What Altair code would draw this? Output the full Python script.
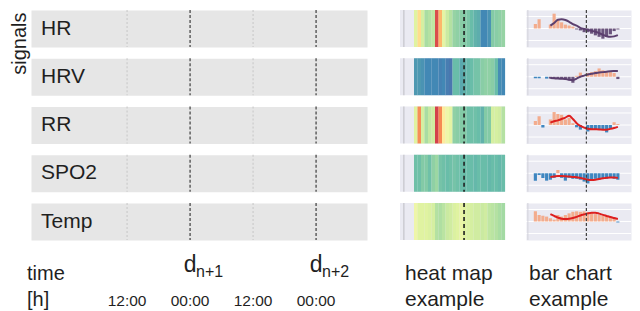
import altair as alt
import pandas as pd

FONT = "Liberation Sans"

# ---------------- data ----------------
signals = ["HR", "HRV", "RR", "SPO2", "Temp"]

# left timeline (hours relative to the first 12:00)
time_domain = [-18.3, 45.7]
tick_hours = [0, 12, 24, 36]
tick_labels = ["12:00", "00:00", "12:00", "00:00"]
tick_kinds = ["noon", "midnight", "noon", "midnight"]
day_hours = [12, 36]
day_letters = ["d", "d"]
day_subs = ["n+1", "n+2"]
head_left = ["time", "[h]"]
head_heat = ["heat map", "example"]
head_bar = ["bar chart", "example"]

# heat map stripes (normalised values, spectral colour map)
heat_domain = [-7.43, 26]
heat_panel = [-4, 26]
heat_edge = -2.9
heat_now = 14.3
heat_hr = [0.6, 0.4, 0.62, 0.7, 0.68, 0.66, 0.13, 0.32, 0.58, 0.64, 0.68, 0.73, 0.74,
           0.75, 0.76, 0.77, 0.8, 0.82, 0.83, 0.9, 0.9, 0.88, 0.76, 0.75, 0.74, 0.73]
heat_hrv = [0.87, 0.87, 0.88, 0.9, 0.9, 0.9, 0.9, 0.91, 0.9, 0.92, 0.93, 0.8, 0.8,
            0.84, 0.82, 0.81, 0.8, 0.78, 0.78, 0.75, 0.74, 0.74, 0.75, 0.8, 0.89, 0.9]
heat_rr = [0.6, 0.25, 0.62, 0.7, 0.65, 0.63, 0.11, 0.24, 0.45, 0.55, 0.58, 0.74, 0.75,
           0.76, 0.76, 0.79, 0.79, 0.79, 0.8, 0.82, 0.76, 0.76, 0.62, 0.62, 0.63, 0.68]
heat_spo2 = [0.79, 0.79, 0.76, 0.76, 0.79, 0.74, 0.72, 0.78, 0.79, 0.8, 0.79, 0.78, 0.79,
             0.8, 0.8, 0.8, 0.8, 0.81, 0.8, 0.8, 0.8, 0.81, 0.8, 0.8, 0.81, 0.8]
heat_temp = [0.55, 0.6, 0.6, 0.6, 0.61, 0.62, 0.68, 0.69, 0.67, 0.64, 0.63, 0.61, 0.6,
             0.56, 0.6, 0.61, 0.62, 0.63, 0.63, 0.64, 0.63, 0.66, 0.67, 0.68, 0.7, 0.71]
heat_values = {"HR": heat_hr, "HRV": heat_hrv, "RR": heat_rr, "SPO2": heat_spo2, "Temp": heat_temp}

# bar chart example (deviation bars + trend line)
bar_domain = [-2.5, 25.5]
bar_ydomain = [-2, 2]
bar_edge = -2
bar_now = 13.6
bar_grid = [-1.3, 0, 1.3]
bar_hr = [0.49, 1.0, 0, 0, 0.42, 1.6, 1.0, 0.67, 0.42, 0.32, 0.2, -0.1, -0.21, -0.4,
          -0.4, -0.56, -0.74, -0.9, -1.1, -0.9, -0.63, -0.28, -0.1, 0]
bar_hrv = [-0.15, -0.15, 0, -0.2, -0.2, -0.2, -0.25, -0.25, -0.3, -0.4, -0.65, 0.1,
           0.45, 0, 0.4, 0.5, 0.6, 0.9, 0.7, 0.6, 0.5, 0.4, -0.25, 0]
bar_rr = [0.42, 0.95, -0.28, 0, 0.6, 1.4, 1.2, 1.1, 0.6, 0.77, 0.2, -0.25, -0.5, 0,
          -0.7, -0.5, -0.5, -0.5, -0.5, -0.8, -0.4, 0.3, 0.1, 0]
bar_spo2 = [-0.8, -0.2, -0.5, -0.8, -0.7, -0.5, 0.35, -0.5, -0.8, -0.5, -0.6, -0.6,
            -0.7, -0.9, -1.1, -0.7, -0.6, -0.7, -0.6, -0.6, -0.5, -0.6, -0.7, 0]
bar_temp = [1.1, 0.7, 0.63, 0.53, 0.35, 0.2, 0.7, 0.53, 0.7, 0.88, 1.05, 1.1, 1.05,
            1.1, 1.0, 0.95, 0.8, 0.72, 0.6, 0.6, 0.5, 0.45, -0.1, 0]
bar_values = {"HR": bar_hr, "HRV": bar_hrv, "RR": bar_rr, "SPO2": bar_spo2, "Temp": bar_temp}

grp_hr = ["pos"] * 11 + ["trend"] * 13
grp_hrv = ["neg"] * 4 + ["trend"] * 7 + ["pos"] * 11 + ["trend"] * 2


def sign_groups(vals):
    return ["pos" if v > 0 else "neg" for v in vals]


bar_groups = {"HR": grp_hr, "HRV": grp_hrv, "RR": sign_groups(bar_rr),
              "SPO2": sign_groups(bar_spo2), "Temp": sign_groups(bar_temp)}

trend_start = 4
trend_hr = [0.32, 0.6, 0.95, 1.0, 0.92, 0.72, 0.48, 0.3, 0.07, -0.05, -0.15, -0.25,
            -0.35, -0.5, -0.68, -0.84, -0.9, -0.85, -0.72]
trend_hrv = [-0.14, -0.17, -0.2, -0.22, -0.25, -0.32, -0.35, -0.2, 0, 0.12, 0.25, 0.32,
             0.4, 0.45, 0.5, 0.55, 0.6, 0.62, 0.63]
trend_rr = [0.25, 0.4, 0.5, 0.65, 0.8, 1.0, 0.65, 0.2, -0.1, -0.28, -0.4, -0.46, -0.47,
            -0.48, -0.5, -0.5, -0.42, -0.32, -0.2]
trend_spo2 = [-0.4, -0.35, -0.3, -0.3, -0.32, -0.35, -0.4, -0.42, -0.5, -0.6, -0.7,
              -0.72, -0.7, -0.62, -0.55, -0.48, -0.45, -0.45, -0.5]
trend_temp = [0.8, 0.6, 0.42, 0.3, 0.28, 0.3, 0.38, 0.5, 0.65, 0.77, 0.88, 0.95, 0.95,
              0.85, 0.72, 0.6, 0.48, 0.38, 0.28]
trend_values = {"HR": trend_hr, "HRV": trend_hrv, "RR": trend_rr, "SPO2": trend_spo2,
                "Temp": trend_temp}

# ---------------- styles ----------------
ROW_W, ROW_H = 336, 37
HEAT_W = 117
BAR_W = 105
ROW_GAP = 11.25
COL_GAP = 21
TXT = "#1f1f1f"
LAVENDER = "#eaeaf2"
line_colors = ["#5b3f6e", "#5b3f6e", "#dd1f1f", "#dd1f1f", "#dd1f1f"]


def no_view():
    return alt.ViewBackground(fill="transparent", stroke="transparent")


def left_row(k, sig):
    xs = alt.Scale(domain=time_domain)
    rules = pd.DataFrame({"h": tick_hours, "kind": tick_kinds})
    noon = alt.Chart(rules).transform_filter("datum.kind == 'noon'").mark_rule(
        color="#c6c6c6", strokeDash=[2, 2], strokeWidth=1).encode(
        x=alt.X("h:Q", scale=xs, axis=None))
    mid = alt.Chart(rules).transform_filter("datum.kind == 'midnight'").mark_rule(
        color="#4a4a4a", strokeDash=[3, 2], strokeWidth=1.3).encode(
        x=alt.X("h:Q", scale=xs, axis=None))
    lab_df = pd.DataFrame({"h": [time_domain[0]], "y": [0.5], "s": [sig]})
    if k == 0:
        yax = alt.Axis(title="signals", titleFontSize=20, titleFontWeight="normal",
                       titleColor=TXT, titleAnchor="end", titleY=2, titlePadding=2,
                       labels=False, ticks=False, domain=False, grid=False)
    else:
        yax = None
    lab = alt.Chart(lab_df).mark_text(align="left", baseline="middle", dx=10,
                                      fontSize=21, color=TXT).encode(
        x=alt.X("h:Q", scale=xs, axis=None),
        y=alt.Y("y:Q", scale=alt.Scale(domain=[0, 1]), axis=yax),
        text="s:N")
    return alt.layer(noon, mid, lab).properties(
        width=ROW_W, height=ROW_H,
        view=alt.ViewBackground(fill="#e6e6e6", stroke="transparent"))


def heat_row(k, sig):
    xs = alt.Scale(domain=heat_domain)
    vals = heat_values[sig]
    df = pd.DataFrame({"j": list(range(len(vals))), "v": vals})
    panel = alt.Chart(pd.DataFrame({"a": [heat_panel[0]], "b": [heat_panel[1]]})).mark_rect(
        color=LAVENDER).encode(x=alt.X("a:Q", scale=xs, axis=None), x2="b:Q")
    stripes = alt.Chart(df).transform_calculate(j2="datum.j + 1.03").mark_rect().encode(
        x=alt.X("j:Q", scale=xs, axis=None), x2="j2:Q",
        color=alt.Color("v:Q", scale=alt.Scale(scheme="spectral", domain=[0, 1]),
                        legend=None))
    edge = alt.Chart(pd.DataFrame({"p": [heat_edge]})).mark_rule(
        color="#c4c4ca", strokeWidth=1.2).encode(x=alt.X("p:Q", scale=xs, axis=None))
    now = alt.Chart(pd.DataFrame({"p": [heat_now]})).mark_rule(
        color="#202020", strokeDash=[4, 3], strokeWidth=1.6).encode(
        x=alt.X("p:Q", scale=xs, axis=None))
    return alt.layer(panel, edge, stripes, now).properties(
        width=HEAT_W, height=ROW_H, view=no_view())


def bar_row(k, sig):
    xs = alt.Scale(domain=bar_domain)
    ys = alt.Scale(domain=bar_ydomain)
    vals = bar_values[sig]
    df = pd.DataFrame({"i": list(range(len(vals))), "v": vals, "g": bar_groups[sig]})
    grid = alt.Chart(pd.DataFrame({"gy": bar_grid})).mark_rule(
        color="white", strokeWidth=1).encode(y=alt.Y("gy:Q", scale=ys, axis=None))
    edge = alt.Chart(pd.DataFrame({"p": [bar_edge]})).mark_rule(
        color="#d2d2da", strokeWidth=1).encode(x=alt.X("p:Q", scale=xs, axis=None))
    bars = alt.Chart(df).transform_calculate(
        a="datum.i - 0.42", b="datum.i + 0.42").mark_rect(opacity=0.9).encode(
        x=alt.X("a:Q", scale=xs, axis=None), x2="b:Q",
        y=alt.Y("v:Q", scale=ys, axis=None), y2=alt.datum(0),
        color=alt.Color("g:N", scale=alt.Scale(domain=["pos", "neg", "trend"],
                                               range=["#f4a582", "#2b7bba", "#5c4470"]),
                        legend=None))
    tr = trend_values[sig]
    ldf = pd.DataFrame({"i": list(range(trend_start, trend_start + len(tr))), "v": tr})
    line = alt.Chart(ldf).mark_line(color=line_colors[k], strokeWidth=2,
                                    interpolate="monotone").encode(
        x=alt.X("i:Q", scale=xs, axis=None), y=alt.Y("v:Q", scale=ys, axis=None))
    now = alt.Chart(pd.DataFrame({"p": [bar_now]})).mark_rule(
        color="#404040", strokeDash=[3, 2], strokeWidth=1.2).encode(
        x=alt.X("p:Q", scale=xs, axis=None))
    return alt.layer(grid, edge, bars, line, now).properties(
        width=BAR_W, height=ROW_H,
        view=alt.ViewBackground(fill=LAVENDER, stroke="transparent"))


BOT_H = 62.56
bot_ys = alt.Scale(domain=[-0.106, 2.3], reverse=True)


def bottom_left():
    xs = alt.Scale(domain=time_domain)
    head = alt.Chart(pd.DataFrame({"h": [time_domain[0]] * 2, "line": [1, 2],
                                   "t": head_left})).mark_text(
        align="left", baseline="alphabetic", dx=-4, fontSize=20, color=TXT).encode(
        x=alt.X("h:Q", scale=xs, axis=None), y=alt.Y("line:Q", scale=bot_ys, axis=None),
        text="t:N")
    ticks = alt.Chart(pd.DataFrame({"h": tick_hours, "line": [2] * 4,
                                    "t": tick_labels})).mark_text(
        align="center", baseline="alphabetic", fontSize=15.5, color=TXT).encode(
        x=alt.X("h:Q", scale=xs, axis=None), y=alt.Y("line:Q", scale=bot_ys, axis=None),
        text="t:N")
    days = alt.Chart(pd.DataFrame({"h": day_hours, "line": [1, 1],
                                   "t": day_letters})).mark_text(
        align="center", baseline="alphabetic", dy=-8, fontSize=23, color=TXT).encode(
        x=alt.X("h:Q", scale=xs, axis=None), y=alt.Y("line:Q", scale=bot_ys, axis=None),
        text="t:N")
    subs = alt.Chart(pd.DataFrame({"h": day_hours, "line": [1, 1],
                                   "t": day_subs})).mark_text(
        align="left", baseline="alphabetic", dx=6, dy=-3, fontSize=16, color=TXT).encode(
        x=alt.X("h:Q", scale=xs, axis=None), y=alt.Y("line:Q", scale=bot_ys, axis=None),
        text="t:N")
    return alt.layer(head, ticks, days, subs).properties(
        width=ROW_W, height=BOT_H, view=no_view())


def bottom_small(domain, start, texts, dx, width):
    xs = alt.Scale(domain=domain)
    return alt.Chart(pd.DataFrame({"h": [start] * 2, "line": [1, 2], "t": texts})).mark_text(
        align="left", baseline="alphabetic", dx=dx, fontSize=21, color=TXT).encode(
        x=alt.X("h:Q", scale=xs, axis=None), y=alt.Y("line:Q", scale=bot_ys, axis=None),
        text="t:N").properties(width=width, height=BOT_H, view=no_view())


cells = []
for k, s in enumerate(signals):
    cells += [left_row(k, s), heat_row(k, s), bar_row(k, s)]
cells += [bottom_left(),
          bottom_small(heat_domain, heat_panel[0], head_heat, 5, HEAT_W),
          bottom_small(bar_domain, bar_domain[0], head_bar, 3, BAR_W)]

chart = alt.concat(
    *cells, columns=3, spacing={"row": ROW_GAP, "column": COL_GAP}, bounds="flush"
).resolve_scale(color="independent").properties(padding=0).configure(font=FONT)

chart.save("out.html", embed_options={"renderer": "svg", "actions": False})
